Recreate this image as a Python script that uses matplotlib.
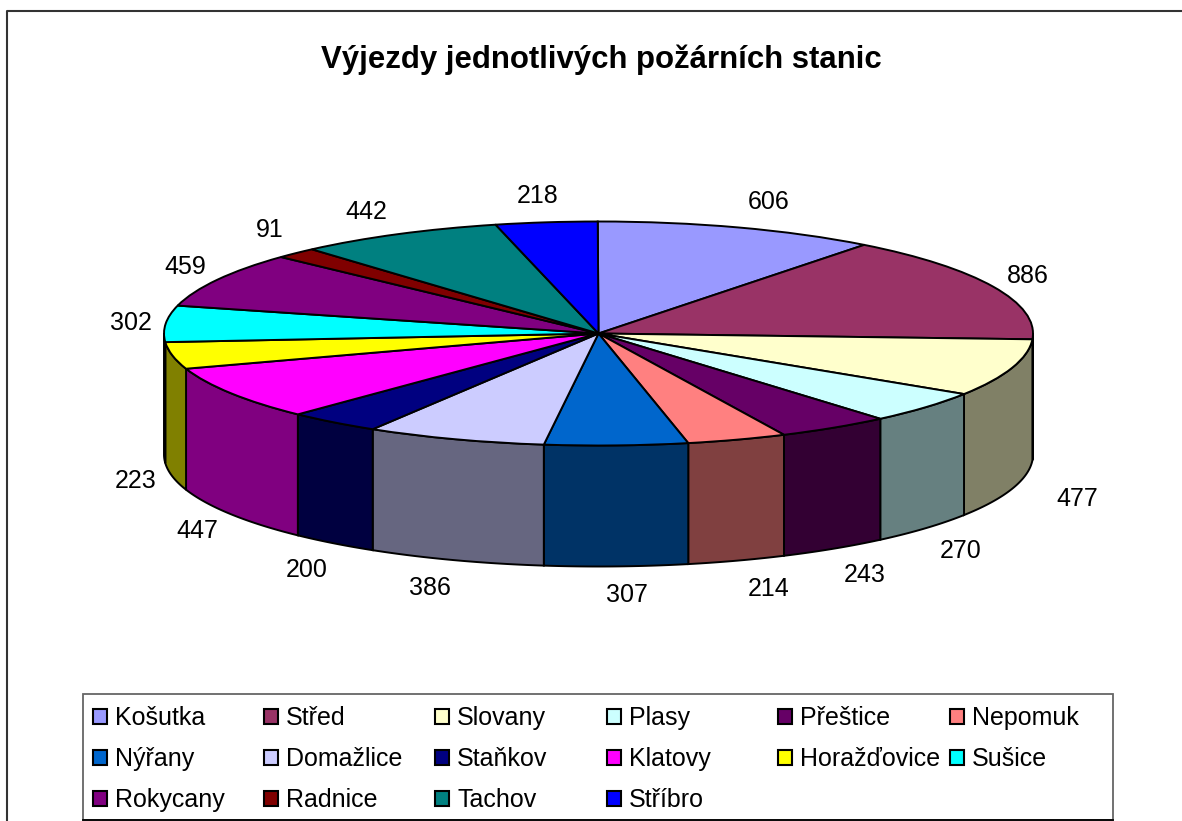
import numpy as np
import matplotlib
matplotlib.use('Agg')
import matplotlib.pyplot as plt
from matplotlib.patches import Rectangle
from matplotlib.colors import to_rgb

plt.rcParams['font.family'] = ['Liberation Sans', 'DejaVu Sans']

stations = ['Košutka', 'Střed', 'Slovany', 'Plasy', 'Přeštice', 'Nepomuk', 'Nýřany', 'Domažlice',
            'Staňkov', 'Klatovy', 'Horažďovice', 'Sušice', 'Rokycany', 'Radnice', 'Tachov', 'Stříbro']
vyjezdy = [606, 886, 477, 270, 243, 214, 307, 386, 200, 447, 223, 302, 459, 91, 442, 218]
barvy = ['#9999FF', '#993366', '#FFFFCC', '#CCFFFF', '#660066', '#FF8080', '#0066CC', '#CCCCFF',
         '#000080', '#FF00FF', '#FFFF00', '#00FFFF', '#800080', '#800000', '#008080', '#0000FF']
# label centres in pixels
label_px = [(769, 202), (1028, 276), (1077, 499), (961, 551), (865, 575), (769, 589), (627, 595), (430, 588),
            (307, 570), (197, 531), (136, 481), (131, 323), (185, 267), (270, 230), (366, 212), (538, 196)]

W, H = 1182, 821
cx, cy, rx, ry, depth = 598.5, 333.5, 434.5, 112, 121
start = 90.1

fig = plt.figure(figsize=(W / 100, H / 100), dpi=100)
bg = fig.add_axes([0, 0, 1, 1])
bg.set_xlim(0, W)
bg.set_ylim(H, 0)
bg.axis('off')

# chart border, right side is cut off in the source
bg.plot([7, 7, W + 5], [H + 5, 11, 11], color='#333333', lw=1.5, clip_on=False)

# pie axes: unit circle squashed onto the ellipse
ax = fig.add_axes([0, 0, 1, 1])
ax.patch.set_alpha(0)
wedges, _ = ax.pie(vyjezdy, colors=barvy, startangle=start, counterclock=False,
                   wedgeprops={'edgecolor': 'black', 'linewidth': 1.4})
ax.set_aspect('auto')
ax.set_xlim(-cx / rx, (W - cx) / rx)
ax.set_ylim((cy - H) / ry, cy / ry)

# side walls for the front half
d = depth / ry
angles = np.concatenate([[0], np.cumsum(vyjezdy)]) / sum(vyjezdy) * 2 * np.pi + np.radians(90 - start)
for i in range(len(vyjezdy)):
    a0v, a1v = max(angles[i], np.pi / 2), min(angles[i + 1], 3 * np.pi / 2)
    if a1v <= a0v:
        continue
    t = np.linspace(a0v, a1v, 60)
    xs = np.sin(t)
    ys = np.cos(t)
    wall = np.column_stack([np.r_[xs, xs[::-1]], np.r_[ys, ys[::-1] - d]])
    shade = tuple(c * 0.5 for c in to_rgb(barvy[i]))
    ax.fill(wall[:, 0], wall[:, 1], facecolor=shade, edgecolor='black', lw=1.4, zorder=0.5)

# title and value labels
bg.text(601.5, 60, 'Výjezdy jednotlivých požárních stanic', fontsize=22.4, fontweight='bold',
        ha='center', va='center', color='black')
for val, (lx, ly) in zip(vyjezdy, label_px):
    bg.text(lx, ly, str(val), fontsize=18, ha='center', va='center', color='black')

# legend
bg.add_patch(Rectangle((83, 694), 1030, 126, facecolor='white', edgecolor='#666666', lw=1.3))
bg.plot([83, 1113], [820, 820], color='black', lw=1.3)
col_x = [92, 263, 434, 606, 777, 949]
row_y = [716.5, 757.5, 798.5]
for i, (name, col) in enumerate(zip(stations, barvy)):
    x, y = col_x[i % 6], row_y[i // 6]
    bg.add_patch(Rectangle((x + 0.5, y - 7), 14.5, 14.5, facecolor=col, edgecolor='black', lw=1.5))
    bg.text(x + 23, y + 8.5, name, fontsize=18, ha='left', va='baseline', color='black')

fig.savefig('out.png', dpi=100)
